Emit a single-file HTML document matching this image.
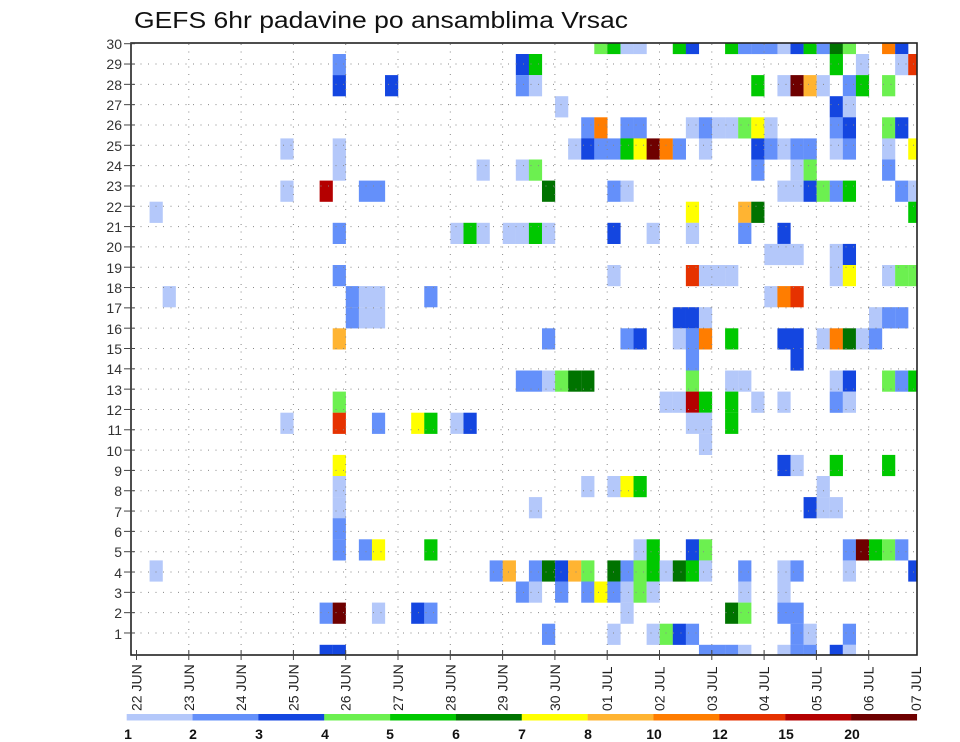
<!DOCTYPE html>
<html><head><meta charset="utf-8"><style>
html,body{margin:0;padding:0;background:#fff;}
svg{display:block;}
text{font-family:"Liberation Sans","DejaVu Sans",sans-serif;}
</style></head><body>
<svg id="s" width="960" height="742" viewBox="0 0 960 742" xmlns="http://www.w3.org/2000/svg">
<rect width="960" height="742" fill="#fff"/>
<text x="134" y="28" font-size="23" fill="#111" textLength="494" lengthAdjust="spacingAndGlyphs">GEFS 6hr padavine po ansamblima Vrsac</text>
<defs><clipPath id="cp"><rect x="131" y="43" width="786" height="612"/></clipPath></defs>
<g id="cells" clip-path="url(#cp)"></g>
<g id="grid" stroke="#888" stroke-width="1" stroke-dasharray="1,6.5"></g>
<rect x="131" y="43" width="786" height="612" fill="none" stroke="#222" stroke-width="1.6"/>
<g id="ticks" stroke="#444" stroke-width="1"></g>
<g font-size="14" fill="#333" text-anchor="end">
<text x="122" y="49">30</text><text x="122" y="69">29</text><text x="122" y="90">28</text><text x="122" y="110">27</text><text x="122" y="130">26</text><text x="122" y="151">25</text><text x="122" y="171">24</text><text x="122" y="191">23</text><text x="122" y="212">22</text><text x="122" y="232">21</text><text x="122" y="252">20</text><text x="122" y="273">19</text><text x="122" y="293">18</text><text x="122" y="313">17</text><text x="122" y="334">16</text><text x="122" y="354">15</text><text x="122" y="374">14</text><text x="122" y="395">13</text><text x="122" y="415">12</text><text x="122" y="435">11</text><text x="122" y="456">10</text><text x="122" y="476">9</text><text x="122" y="496">8</text><text x="122" y="517">7</text><text x="122" y="537">6</text><text x="122" y="557">5</text><text x="122" y="578">4</text><text x="122" y="598">3</text><text x="122" y="618">2</text><text x="122" y="639">1</text>
</g>
<g font-size="14" fill="#222">
<text transform="translate(141.5,711) rotate(-90)">22 JUN</text>
<text transform="translate(193.8,711) rotate(-90)">23 JUN</text>
<text transform="translate(246.1,711) rotate(-90)">24 JUN</text>
<text transform="translate(298.4,711) rotate(-90)">25 JUN</text>
<text transform="translate(350.7,711) rotate(-90)">26 JUN</text>
<text transform="translate(403,711) rotate(-90)">27 JUN</text>
<text transform="translate(455.3,711) rotate(-90)">28 JUN</text>
<text transform="translate(507.6,711) rotate(-90)">29 JUN</text>
<text transform="translate(559.9,711) rotate(-90)">30 JUN</text>
<text transform="translate(612.2,711) rotate(-90)">01 JUL</text>
<text transform="translate(664.5,711) rotate(-90)">02 JUL</text>
<text transform="translate(716.8,711) rotate(-90)">03 JUL</text>
<text transform="translate(769.1,711) rotate(-90)">04 JUL</text>
<text transform="translate(821.4,711) rotate(-90)">05 JUL</text>
<text transform="translate(873.7,711) rotate(-90)">06 JUL</text>
<text transform="translate(921,711) rotate(-90)">07 JUL</text>
</g>
<g id="cbar"></g>
<g font-size="14" font-weight="bold" fill="#111" text-anchor="middle">
<text x="128" y="739">1</text><text x="193" y="739">2</text><text x="259" y="739">3</text><text x="325" y="739">4</text><text x="390" y="739">5</text><text x="456" y="739">6</text><text x="522" y="739">7</text><text x="588" y="739">8</text><text x="654" y="739">10</text><text x="720" y="739">12</text><text x="786" y="739">15</text><text x="852" y="739">20</text>
</g>
</svg>
<script>
var C={a:"#b4c8fa",b:"#6490fa",c:"#1446e0",d:"#6cf050",e:"#00c800",f:"#007300",g:"#ffff00",h:"#ffb432",i:"#ff7d00",j:"#e63200",k:"#b40000",l:"#6e0000"};
var D=[
"35d,36e,37a,38a,41e,42c,45e,46b,47b,48b,49a,50c,51e,52b,53f,54d,57i,58c",
"15b,29c,30e,53e,55a,58a,59j",
"15c,19c,29b,30a,47e,49a,50l,51h,52a,54b,55e,57d",
"32a,53c,54a",
"34b,35i,37b,38b,42a,43b,44a,45a,46d,47g,48a,53b,54c,57d,58c",
"11a,15a,33a,34c,35b,36b,37e,38g,39l,40i,41b,43a,47c,48b,49a,50b,51b,53a,54b,57a,59g",
"15a,26a,29a,30d,47b,50a,51d,57b",
"11a,14k,17b,18b,31f,36b,37a,49a,50a,51c,52d,53b,54e,58b,59a",
"1a,42g,46h,47f,59e",
"15b,24a,25e,26a,28a,29a,30e,31a,36c,39a,42a,46b,49c",
"48a,49a,50a,53a,54c",
"15b,36a,42j,43a,44a,45a,53a,54g,57a,58d,59d",
"2a,16b,17a,18a,22b,48a,49i,50j",
"16b,17a,18a,41c,42c,43a,56a,57b,58b",
"15h,31b,37b,38c,41a,42b,43i,45e,49c,50c,52a,53i,54f,55a,56b",
"42b,50c",
"29b,30b,31a,32d,33f,34f,42d,45a,46a,53a,54c,57d,58b,59e",
"15d,40a,41a,42k,43e,45e,47a,49a,53b,54a",
"11a,15j,18b,21g,22e,24a,25c,42a,43a,45e",
"43a",
"15g,49c,50a,53e,57e",
"15a,34a,36a,37g,38e,52a",
"15a,30a,51c,52a,53a",
"15b",
"15b,17b,18g,22e,38a,39e,42c,43d,54b,55l,56e,57d,58b",
"1a,27b,28h,30b,31f,32c,33h,34d,36f,37b,38d,39e,40a,41f,42e,43a,46b,49a,50b,54a,59c",
"29b,30a,32b,34b,35g,36b,37a,38d,39a,46a,49a",
"14b,15l,18a,21c,22b,37a,45f,46d,49b,50b",
"31b,36a,39a,40d,41c,42b,50b,51a,54b",
"14c,15c,43b,44b,45b,46a,49a,50b,51b,53c,54a"];
var NS="http://www.w3.org/2000/svg";
function R(p,x,y,w,h,f,extra){var r=document.createElementNS(NS,"rect");r.setAttribute("x",x);r.setAttribute("y",y);r.setAttribute("width",w);r.setAttribute("height",h);r.setAttribute("fill",f);p.appendChild(r);return r;}
function L(p,x1,y1,x2,y2){var l=document.createElementNS(NS,"line");l.setAttribute("x1",x1);l.setAttribute("y1",y1);l.setAttribute("x2",x2);l.setAttribute("y2",y2);p.appendChild(l);}
var cg=document.getElementById("cells");
for(var i=0;i<D.length;i++){D[i].split(",").forEach(function(t){var k=parseInt(t);var c=t.slice(-1);R(cg,136.5+13.08*k,32.9+21.1*i,13.2,21.2,C[c]);});}
var g=document.getElementById("grid");
for(var r=1;r<30;r++){var y=43.7+(30-r)*20.32;L(g,133,y,916,y);}
for(var d=1;d<15;d++){var x=136.5+52.3*d;L(g,x,44,x,654);}
var tk=document.getElementById("ticks");
for(var r=1;r<=30;r++){var y=43.7+(30-r)*20.32;L(tk,124,y,135,y);}
for(var d=0;d<15;d++){var x=136.5+52.3*d;L(tk,x,650,x,660);}
var cb=document.getElementById("cbar");var cols="abcdefghijkl";
for(var n=0;n<12;n++){R(cb,126.7+65.85*n,714,66,6.5,C[cols[n]]);}
</script>
</body></html>
